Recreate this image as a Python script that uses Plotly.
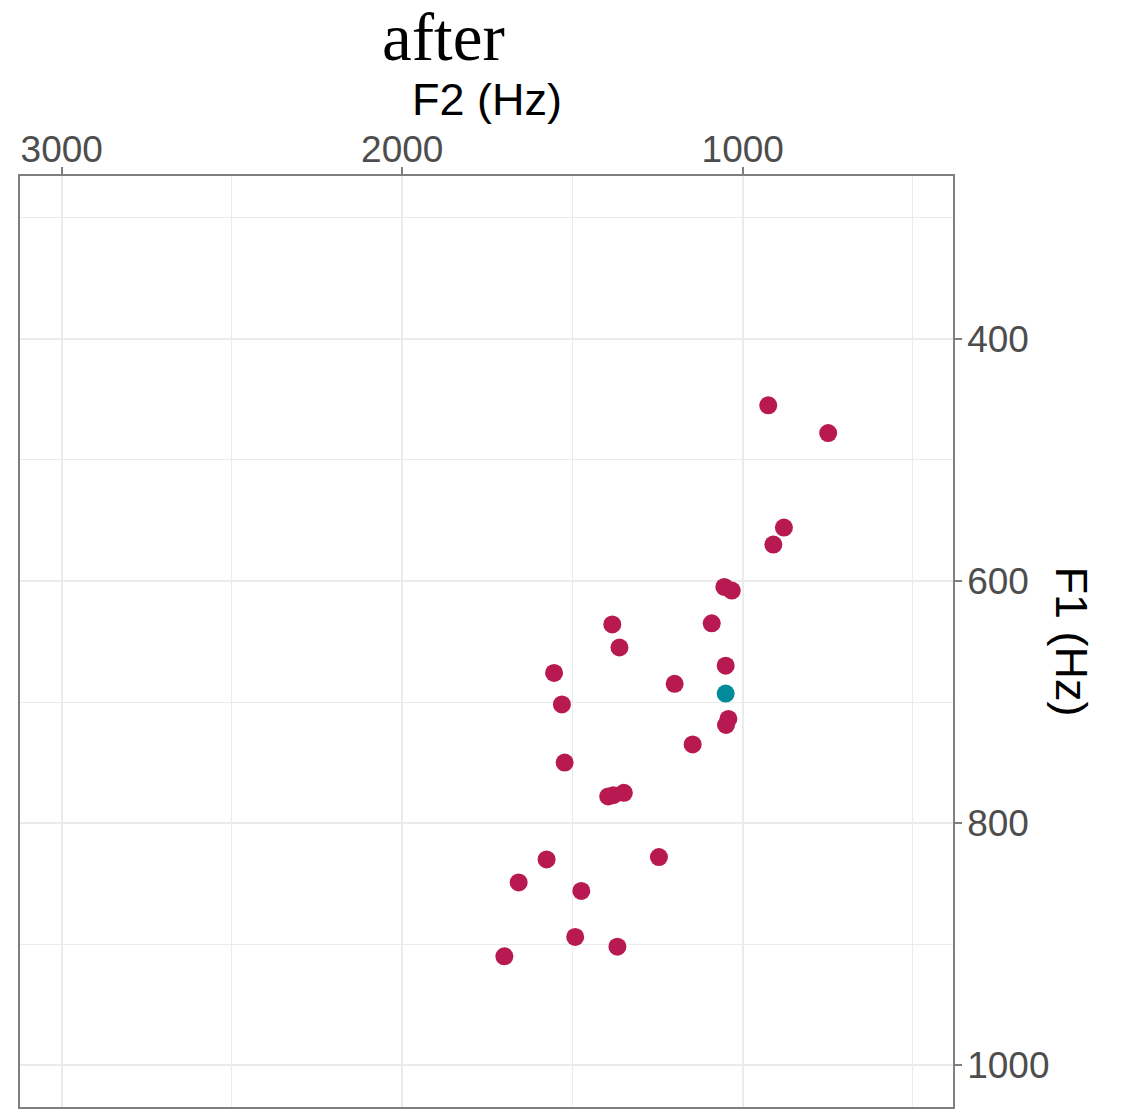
import plotly.graph_objects as go

# Vowel formant measurements (Hz)
f2_main = [925, 749, 879, 910, 1054, 1032, 1091, 1383, 1362, 1050, 1554, 1200,
           1531, 1042, 1049, 1147, 1523, 1395, 1380, 1349, 1576, 1246, 1658,
           1474, 1492, 1368, 1700]
f1_main = [455, 478, 556, 570, 605, 608, 635, 636, 655, 670, 676, 685,
           702, 714, 719, 735, 750, 778, 777, 775, 830, 828, 849,
           856, 894, 902, 910]
f2_hl = [1050]
f1_hl = [693]

x_ticks = [3000, 2000, 1000]
y_ticks = [400, 600, 800, 1000]

GRID = "#EBEBEB"
BORDER = "#7F7F7F"

fig = go.Figure()
fig.add_trace(go.Scatter(x=f2_main, y=f1_main, mode="markers",
                         marker=dict(size=18, color="#B71950"),
                         showlegend=False, hoverinfo="x+y"))
fig.add_trace(go.Scatter(x=f2_hl, y=f1_hl, mode="markers",
                         marker=dict(size=18, color="#008B9B"),
                         showlegend=False, hoverinfo="x+y"))

fig.update_layout(
    width=1125, height=1114,
    margin=dict(l=20, r=172, t=176, b=5),
    paper_bgcolor="white", plot_bgcolor="white",
    font=dict(family="Liberation Sans, Arial, sans-serif", color="#4D4D4D"),
    xaxis=dict(
        side="top", range=[3122.5, 382.4], tickvals=x_ticks,
        ticktext=[str(v) for v in x_ticks],
        showgrid=True, gridcolor=GRID, gridwidth=2,
        minor=dict(tickvals=[2500, 1500, 500], showgrid=True, gridcolor=GRID, gridwidth=1.3),
        showline=True, mirror=True, linecolor=BORDER, linewidth=1.6,
        ticks="outside", ticklen=7, tickwidth=1.6, tickcolor=BORDER,
        ticklabelstandoff=-10,
        tickfont=dict(size=37, color="#4D4D4D"), zeroline=False,
    ),
    yaxis=dict(
        side="right", range=[1034.4, 265.7], tickvals=y_ticks,
        ticktext=[str(v) for v in y_ticks],
        showgrid=True, gridcolor=GRID, gridwidth=2,
        minor=dict(tickvals=[300, 500, 700, 900], showgrid=True, gridcolor=GRID, gridwidth=1.3),
        showline=True, mirror=True, linecolor=BORDER, linewidth=1.6,
        ticks="outside", ticklen=7, tickwidth=1.6, tickcolor=BORDER,
        ticklabelstandoff=-2,
        tickfont=dict(size=37, color="#4D4D4D"), zeroline=False,
    ),
    annotations=[
        dict(text="after", xref="paper", yref="paper", x=0.4534, y=1.149,
             xanchor="center", yanchor="middle", showarrow=False,
             font=dict(family="Liberation Serif, Times New Roman, serif", size=67, color="black")),
        dict(text="F2 (Hz)", xref="paper", yref="paper", x=0.5, y=1.0825,
             xanchor="center", yanchor="middle", showarrow=False,
             font=dict(family="Liberation Sans, Arial, sans-serif", size=45, color="black")),
        dict(text="F1 (Hz)", xref="paper", yref="paper", x=1.1275, y=0.5,
             xanchor="center", yanchor="middle", showarrow=False, textangle=90,
             font=dict(family="Liberation Sans, Arial, sans-serif", size=45, color="black")),
    ],
)

fig.write_html("out.html")
